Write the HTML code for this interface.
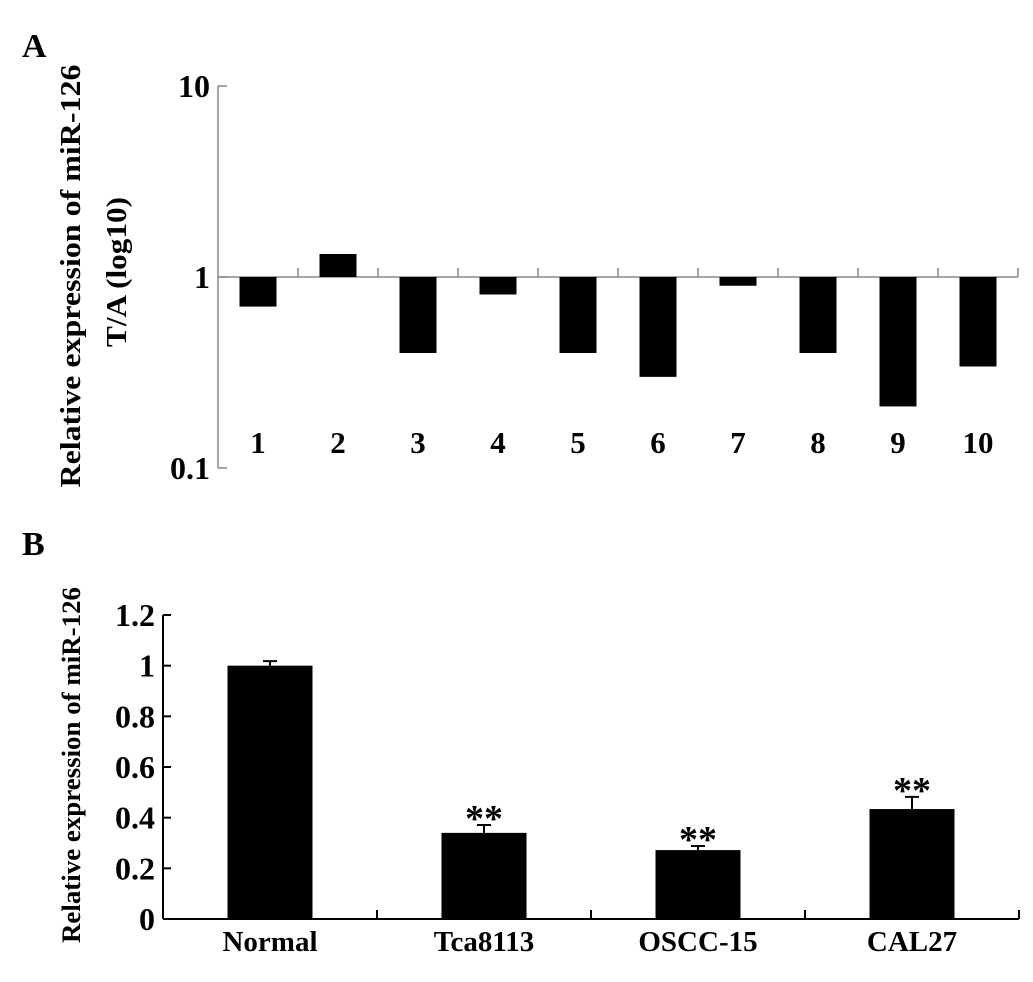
<!DOCTYPE html>
<html><head><meta charset="utf-8"><style>
body{margin:0;background:#fff}
svg{display:block;font-family:"Liberation Serif",serif;font-weight:bold}
</style></head><body>
<svg id="fig" width="1033" height="982" viewBox="0 0 1033 982" xmlns="http://www.w3.org/2000/svg">
<text x="22" y="57" font-size="34">A</text>
<text x="22" y="555" font-size="34">B</text>
<text transform="translate(80,276) rotate(-90)" text-anchor="middle" font-size="28" textLength="423" lengthAdjust="spacingAndGlyphs">Relative expression of miR-126</text>
<text transform="translate(126,272) rotate(-90)" text-anchor="middle" font-size="28" textLength="150" lengthAdjust="spacingAndGlyphs">T/A (log10)</text>
<text transform="translate(80,765) rotate(-90)" text-anchor="middle" font-size="26" textLength="356" lengthAdjust="spacingAndGlyphs">Relative expression of miR-126</text>
<g id="ga"></g>
<g id="gb"></g>
</svg>
<script>
const catsA=["1","2","3","4","5","6","7","8","9","10"];
const valsA=[0.70,1.32,0.40,0.81,0.40,0.30,0.90,0.40,0.21,0.34];
const ticksA=[10,1,0.1];
const tickLabelsA=["10","1","0.1"];
const catsB=["Normal","Tca8113","OSCC-15","CAL27"];
const valsB=[1.0,0.34,0.272,0.434];
const errB=[0.018,0.031,0.016,0.048];
const sigB=["","**","**","**"];
const ticksB=[0,0.2,0.4,0.6,0.8,1.0,1.2];
const tickLabelsB=["0","0.2","0.4","0.6","0.8","1","1.2"];
const NS="http://www.w3.org/2000/svg";
function mk(p,t,a){const e=document.createElementNS(NS,t);for(const k in a)e.setAttribute(k,a[k]);p.appendChild(e);return e;}
// Panel A
const ga=document.getElementById('ga');
const ax0=218,ax1=1018,yTop=86,yBot=468;
const ya=v=>yBot-(Math.log10(v)+1)/2*(yBot-yTop);
const cwA=(ax1-ax0)/catsA.length;
let e=mk(ga,'line',{x1:ax0,y1:yTop,x2:ax0,y2:yBot,stroke:'#888','stroke-width':1.5});


ticksA.forEach((t,i)=>{
 e=mk(ga,'line',{x1:ax0,y1:ya(t),x2:ax0+9,y2:ya(t),stroke:'#888','stroke-width':1.5});
 
 
 e=mk(ga,'text',{x:ax0-8,y:ya(t)+11,'text-anchor':'end','font-size':32});e.textContent=tickLabelsA[i];
 
 
});
const y1=ya(1);
e=mk(ga,'line',{x1:ax0,y1:y1,x2:ax1,y2:y1,stroke:'#888','stroke-width':1.5});


catsA.forEach((c,i)=>{
 const x=ax0+(i+1)*cwA;
 e=mk(ga,'line',{x1:x,y1:y1,x2:x,y2:y1-9,stroke:'#888','stroke-width':1.5});
 
 
 const v=valsA[i],cx=ax0+(i+0.5)*cwA,top=Math.min(ya(v),y1),h=Math.abs(ya(v)-y1);
 e=mk(ga,'rect',{x:cx-18.5,y:top,width:37,height:h,fill:'#000'});
 
 
 e=mk(ga,'text',{x:cx,y:453,'text-anchor':'middle','font-size':31});e.textContent=c;
 
 
});
// Panel B
const gb=document.getElementById('gb');
const bx0=163,bx1=1019,b0=919,bTop=615;
const yb=v=>b0-v/1.2*(b0-bTop);
const cwB=(bx1-bx0)/catsB.length;
e=mk(gb,'line',{x1:bx0,y1:bTop,x2:bx0,y2:b0,stroke:'#000','stroke-width':2});


e=mk(gb,'line',{x1:bx0,y1:b0,x2:bx1,y2:b0,stroke:'#000','stroke-width':2});


ticksB.forEach((t,i)=>{
 e=mk(gb,'line',{x1:bx0,y1:yb(t),x2:bx0+8,y2:yb(t),stroke:'#000','stroke-width':2});
 
 
 e=mk(gb,'text',{x:bx0-8,y:yb(t)+11,'text-anchor':'end','font-size':32});e.textContent=tickLabelsB[i];
 
 
});
catsB.forEach((c,i)=>{
 const x=bx0+(i+1)*cwB;
 e=mk(gb,'line',{x1:x,y1:b0,x2:x,y2:b0-9,stroke:'#000','stroke-width':2});
 
 
 const cx=bx0+(i+0.5)*cwB,v=valsB[i];
 e=mk(gb,'rect',{x:cx-42.5,y:yb(v),width:85,height:b0-yb(v),fill:'#000'});
 
 
 const ye=yb(v+errB[i]);
 e=mk(gb,'path',{d:`M${cx},${yb(v)}V${ye}M${cx-7},${ye}H${cx+7}`,stroke:'#000','stroke-width':2,fill:'none'});
 
 
 if(sigB[i]){
  e=mk(gb,'text',{x:cx,y:ye+6,'text-anchor':'middle','font-size':38});e.textContent=sigB[i];
  
  
 }
 e=mk(gb,'text',{x:cx,y:951,'text-anchor':'middle','font-size':29});e.textContent=c;
 
 
});
</script>
</body></html>
